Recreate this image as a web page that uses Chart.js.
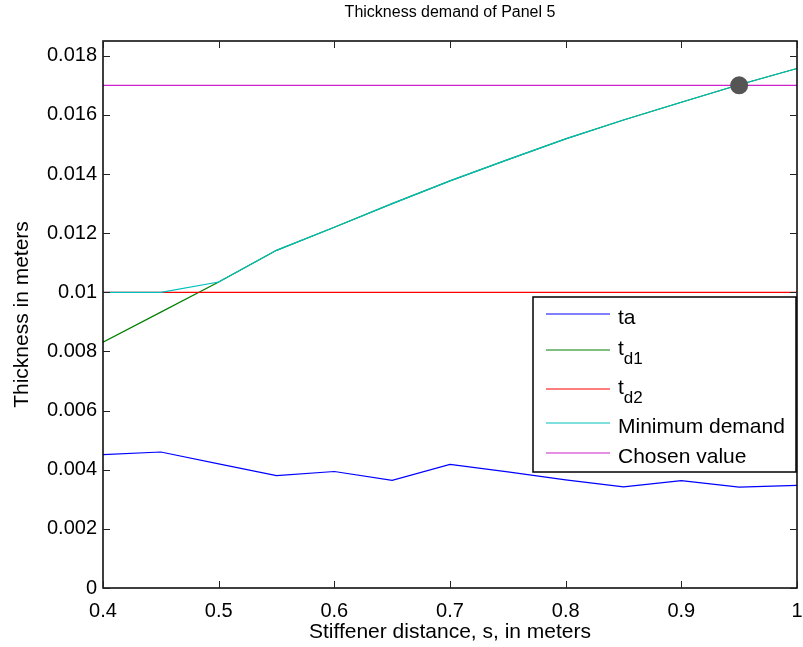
<!DOCTYPE html>
<html>
<head>
<meta charset="utf-8">
<script src="https://cdn.jsdelivr.net/npm/chart.js@4.4.0/dist/chart.umd.min.js"></script>
<style>
  html, body { margin: 0; padding: 0; background: #fff; }
  #wrap { width: 803px; height: 647px; }
</style>
</head>
<body>
<div id="wrap"><canvas id="myChart" width="803" height="647"></canvas></div>
<script>
// valores
const sValues = [0.4, 0.45, 0.5, 0.55, 0.6, 0.65, 0.7, 0.75, 0.8, 0.85, 0.9, 0.95, 1.0];
const ta = [0.00451, 0.0046, 0.0042, 0.0038, 0.00394, 0.00364, 0.00418, 0.00393, 0.00366, 0.00342, 0.00363, 0.00341, 0.00347];
const td1 = [0.00831, 0.00933, 0.01035, 0.01142, 0.0122, 0.0130, 0.01377, 0.01449, 0.01519, 0.01583, 0.01643, 0.01702, 0.01757];
const td2 = [0.01, 0.01, 0.01, 0.01, 0.01, 0.01, 0.01, 0.01, 0.01, 0.01, 0.01, 0.01, 0.01];
const minDemand = [0.01, 0.01, 0.01035, 0.01142, 0.0122, 0.0130, 0.01377, 0.01449, 0.01519, 0.01583, 0.01643, 0.01702, 0.01757];
const chosenValue = [0.017, 0.017, 0.017, 0.017, 0.017, 0.017, 0.017, 0.017, 0.017, 0.017, 0.017, 0.017, 0.017];
const chosenPoint = [{ x: 0.95, y: 0.017 }];
const xTicks = [0.4, 0.5, 0.6, 0.7, 0.8, 0.9, 1.0];
const yTicks = [0, 0.002, 0.004, 0.006, 0.008, 0.01, 0.012, 0.014, 0.016, 0.018];

const FONT = "'Liberation Sans', Arial, Helvetica, sans-serif";
const titulo = 'Thickness demand of Panel 5';

function puntos(arr) {
  return sValues.map((s, i) => ({ x: s, y: arr[i] }));
}

const legendItems = [
  { color: '#0000ff', plain: 'ta' },
  { color: '#008000', text: 't', sub: 'd1' },
  { color: '#ff0000', text: 't', sub: 'd2' },
  { color: '#00bfbf', plain: 'Minimum demand' },
  { color: '#cc22cc', plain: 'Chosen value' }
];

// caja, ticks hacia adentro, titulo y leyenda estilo matlab
const matlabBox = {
  id: 'matlabBox',
  afterLayout(chart) {
    // el eje x llega hasta el borde derecho como en matlab
    const a = chart.chartArea;
    const xs = chart.scales.x;
    const derecha = chart.width - 6;
    a.right = derecha;
    a.width = a.right - a.left;
    xs.right = derecha;
    xs.width = derecha - xs.left;
    xs.configure();
  },
  afterDraw(chart) {
    const ctx = chart.ctx;
    const a = chart.chartArea;
    const xs = chart.scales.x;
    const ys = chart.scales.y;
    ctx.save();

    ctx.fillStyle = '#000';
    ctx.font = '16px ' + FONT;
    ctx.textAlign = 'center';
    ctx.textBaseline = 'middle';
    ctx.fillText(titulo, (a.left + a.right) / 2, 13);

    ctx.strokeStyle = '#000';
    ctx.lineWidth = 1.5;
    ctx.strokeRect(a.left, a.top, a.right - a.left, a.bottom - a.top);
    ctx.lineWidth = 1;
    ctx.strokeStyle = '#222';
    const tl = 7;
    ctx.beginPath();
    xTicks.forEach(v => {
      const px = Math.round(xs.getPixelForValue(v)) + 0.5;
      ctx.moveTo(px, a.bottom); ctx.lineTo(px, a.bottom - tl);
      ctx.moveTo(px, a.top); ctx.lineTo(px, a.top + tl);
    });
    yTicks.forEach(v => {
      const py = Math.round(ys.getPixelForValue(v)) + 0.5;
      ctx.moveTo(a.left, py); ctx.lineTo(a.left + tl, py);
      ctx.moveTo(a.right, py); ctx.lineTo(a.right - tl, py);
    });
    ctx.stroke();

    // leyenda
    const bx = 533, by = 297, bw = a.right - 533 - 1, bh = 175;
    ctx.fillStyle = '#fff';
    ctx.fillRect(bx, by, bw, bh);
    ctx.strokeStyle = '#000';
    ctx.lineWidth = 1.5;
    ctx.strokeRect(bx, by, bw, bh);
    const rows = [314, 350, 389, 423, 453];
    legendItems.forEach((it, i) => {
      const y = rows[i];
      ctx.strokeStyle = it.color;
      ctx.lineWidth = 1.2;
      ctx.beginPath();
      ctx.moveTo(546, y); ctx.lineTo(610, y);
      ctx.stroke();
      ctx.fillStyle = '#000';
      ctx.textBaseline = 'middle';
      ctx.textAlign = 'left';
      if (it.plain) {
        ctx.font = '21px ' + FONT;
        ctx.fillText(it.plain, 618, y + 4);
      } else {
        ctx.font = '21px ' + FONT;
        ctx.fillText(it.text, 618, y - 1);
        const w = ctx.measureText(it.text).width;
        ctx.font = '17px ' + FONT;
        ctx.fillText(it.sub, 618 + w, y + 9);
      }
    });
    ctx.restore();
  }
};

const ctx = document.getElementById('myChart');

new Chart(ctx, {
  type: 'line',
  data: {
    datasets: [
      { label: 'ta', data: puntos(ta), borderColor: '#0000ff', order: 6 },
      { label: 'td1', data: puntos(td1), borderColor: '#008000', order: 5 },
      { label: 'td2', data: puntos(td2), borderColor: '#ff0000', order: 4 },
      { label: 'Minimum demand', data: puntos(minDemand), borderColor: '#00bfbf', order: 3 },
      { label: 'Chosen value', data: puntos(chosenValue), borderColor: '#cc22cc', order: 2 },
      {
        label: 'punto', data: chosenPoint, showLine: false, order: 1,
        pointRadius: 9, pointBackgroundColor: '#555555', pointBorderColor: '#555555', pointBorderWidth: 0
      }
    ]
  },
  options: {
    responsive: false,
    animation: false,
    devicePixelRatio: 1,
    layout: { padding: { left: 0, right: 2, top: 41, bottom: 0 } },
    elements: {
      line: { borderWidth: 1.2, tension: 0, fill: false },
      point: { radius: 0 }
    },
    plugins: {
      legend: { display: false },
      tooltip: { enabled: false },
      title: { display: false }
    },
    scales: {
      x: {
        type: 'linear',
        min: 0.4,
        max: 1,
        afterBuildTicks: s => { s.ticks = xTicks.map(v => ({ value: v })); },
        afterFit: s => { s.height = 59; },
        grid: { display: false, drawTicks: false },
        border: { display: false },
        ticks: {
          color: '#000',
          padding: 11,
          maxRotation: 0,
          font: { family: FONT, size: 20 },
          callback: v => String(+v.toFixed(2))
        },
        title: {
          display: true,
          text: 'Stiffener distance, s, in meters',
          color: '#000',
          font: { family: FONT, size: 21 },
          padding: { top: 0, bottom: 2 }
        }
      },
      y: {
        type: 'linear',
        min: 0,
        max: 0.0185,
        afterBuildTicks: s => { s.ticks = yTicks.map(v => ({ value: v })); },
        afterFit: s => { s.width = 103; },
        grid: { display: false, drawTicks: false },
        border: { display: false },
        ticks: {
          color: '#000',
          padding: 6,
          font: { family: FONT, size: 20 },
          callback: v => String(+v.toFixed(3))
        },
        title: {
          display: true,
          text: 'Thickness in meters',
          color: '#000',
          font: { family: FONT, size: 21 },
          padding: { top: 10, bottom: 0 }
        }
      }
    }
  },
  plugins: [matlabBox]
});
</script>
</body>
</html>
